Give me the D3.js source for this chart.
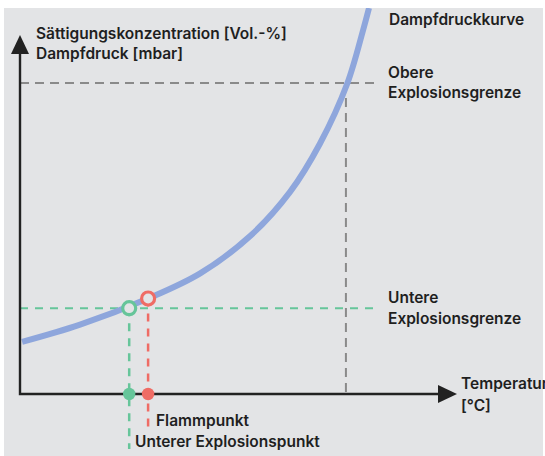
<!DOCTYPE html>
<html>
<head>
<meta charset="utf-8">
<script src="https://cdn.jsdelivr.net/npm/d3@7"></script>
<style>
  body { margin: 0; background: #fff; }
  text { font-family: Inter, "Liberation Sans", Arial, sans-serif; font-size: 15.5px; font-weight: 600; fill: #1f1f1f; }
</style>
</head>
<body>
<div id="chart"></div>
<script>
// vapour pressure curve (temperature vs pressure, arbitrary units)
const curveTemp = [0.5, 14.3, 30.5, 42.9, 54.8, 64.3, 71.4, 77.9, 81.7, 83.1];
const curvePress = [14.5, 19.3, 26.6, 33.6, 44.0, 56.3, 69.7, 86.4, 101.4, 107.5];

// characteristic points
const lowerPoint = { temp: 26, press: 23.9 };   // Unterer Explosionspunkt
const flashPoint = { temp: 30.5, press: 26.6 }; // Flammpunkt
const upperLimit = { temp: 77.6, press: 86.6 }; // Obere Explosionsgrenze

const yLabels = ['Sättigungskonzentration [Vol.-%]', 'Dampfdruck [mbar]'];
const xLabels = ['Temperatur', '[°C]'];

const width = 545, height = 456;
const colors = { bg: '#e3e4e6', axis: '#222', curve: '#8ea6dc', green: '#66c59a', red: '#ef6c65', gray: '#8a8a8a' };

const svg = d3.select('#chart').append('svg')
  .attr('width', width)
  .attr('height', height);

svg.append('rect')
  .attr('x', 4).attr('y', 8)
  .attr('width', 539).attr('height', 448)
  .attr('fill', colors.bg);

const x = d3.scaleLinear().domain([0, 100]).range([20, 440]);
const y = d3.scaleLinear().domain([0, 100]).range([394, 35]);

// dashed guide lines
const guides = svg.append('g').attr('fill', 'none').attr('stroke-width', 2);

guides.append('line')
  .attr('x1', x(0)).attr('x2', x(84.5))
  .attr('y1', y(upperLimit.press)).attr('y2', y(upperLimit.press))
  .attr('stroke', colors.gray).attr('stroke-dasharray', '9,6');
guides.append('line')
  .attr('x1', x(upperLimit.temp)).attr('x2', x(upperLimit.temp))
  .attr('y1', y(upperLimit.press)).attr('y2', y(0))
  .attr('stroke', colors.gray).attr('stroke-dasharray', '9,6');

guides.append('line')
  .attr('x1', x(0)).attr('x2', x(84.5))
  .attr('y1', y(lowerPoint.press)).attr('y2', y(lowerPoint.press))
  .attr('stroke', colors.green).attr('stroke-dasharray', '8,7');
guides.append('line')
  .attr('x1', x(lowerPoint.temp)).attr('x2', x(lowerPoint.temp))
  .attr('y1', y(lowerPoint.press)).attr('y2', 449)
  .attr('stroke', colors.green).attr('stroke-width', 2.5).attr('stroke-dasharray', '8,7');
guides.append('line')
  .attr('x1', x(flashPoint.temp)).attr('x2', x(flashPoint.temp))
  .attr('y1', y(flashPoint.press)).attr('y2', 427)
  .attr('stroke', colors.red).attr('stroke-width', 2.5).attr('stroke-dasharray', '8,7');

// vapour pressure curve
const line = d3.line()
  .x((d, i) => x(curveTemp[i]))
  .y(d => y(d))
  .curve(d3.curveCatmullRom);

svg.append('path')
  .datum(curvePress)
  .attr('d', line)
  .attr('fill', 'none')
  .attr('stroke', colors.curve)
  .attr('stroke-width', 6);

// cover the curve above the grey panel
svg.append('rect').attr('x', 0).attr('y', 0).attr('width', width).attr('height', 8).attr('fill', '#fff');

// axes with arrows
const axes = svg.append('g');
axes.append('path')
  .attr('d', `M20,53 V${y(0)} H440`)
  .attr('fill', 'none')
  .attr('stroke', colors.axis)
  .attr('stroke-width', 2.4);
axes.append('path')
  .attr('d', 'M20,35 L29,54 L11,54 Z')
  .attr('fill', colors.axis);
axes.append('path')
  .attr('d', `M457,${y(0)} L438,${y(0) - 9} L438,${y(0) + 9} Z`)
  .attr('fill', colors.axis);

// markers
const pts = [
  { p: lowerPoint, c: colors.green },
  { p: flashPoint, c: colors.red }
];
svg.selectAll('.ring')
  .data(pts)
  .join('circle')
  .attr('class', 'ring')
  .attr('cx', d => x(d.p.temp))
  .attr('cy', d => y(d.p.press))
  .attr('r', 6.5)
  .attr('fill', colors.bg)
  .attr('stroke', d => d.c)
  .attr('stroke-width', 3.2);
svg.selectAll('.dot')
  .data(pts)
  .join('circle')
  .attr('class', 'dot')
  .attr('cx', d => x(d.p.temp))
  .attr('cy', y(0))
  .attr('r', 6.2)
  .attr('fill', d => d.c);

// labels
svg.selectAll('.ylab')
  .data(yLabels)
  .join('text')
  .attr('class', 'ylab')
  .attr('x', 36)
  .attr('y', (d, i) => 39 + i * 20)
  .text(d => d);

svg.selectAll('.xlab')
  .data(xLabels)
  .join('text')
  .attr('class', 'xlab')
  .attr('x', 461)
  .attr('y', (d, i) => 389 + i * 22)
  .text(d => d);

const notes = [
  { t: 'Dampfdruckkurve', x: 389, y: 25 },
  { t: 'Obere', x: 388, y: 78 },
  { t: 'Explosionsgrenze', x: 388, y: 98 },
  { t: 'Untere', x: 388, y: 303 },
  { t: 'Explosionsgrenze', x: 388, y: 324 },
  { t: 'Flammpunkt', x: 156, y: 426 },
  { t: 'Unterer Explosionspunkt', x: 135, y: 447 }
];
svg.selectAll('.note')
  .data(notes)
  .join('text')
  .attr('class', 'note')
  .attr('x', d => d.x)
  .attr('y', d => d.y)
  .text(d => d.t);
</script>
</body>
</html>
